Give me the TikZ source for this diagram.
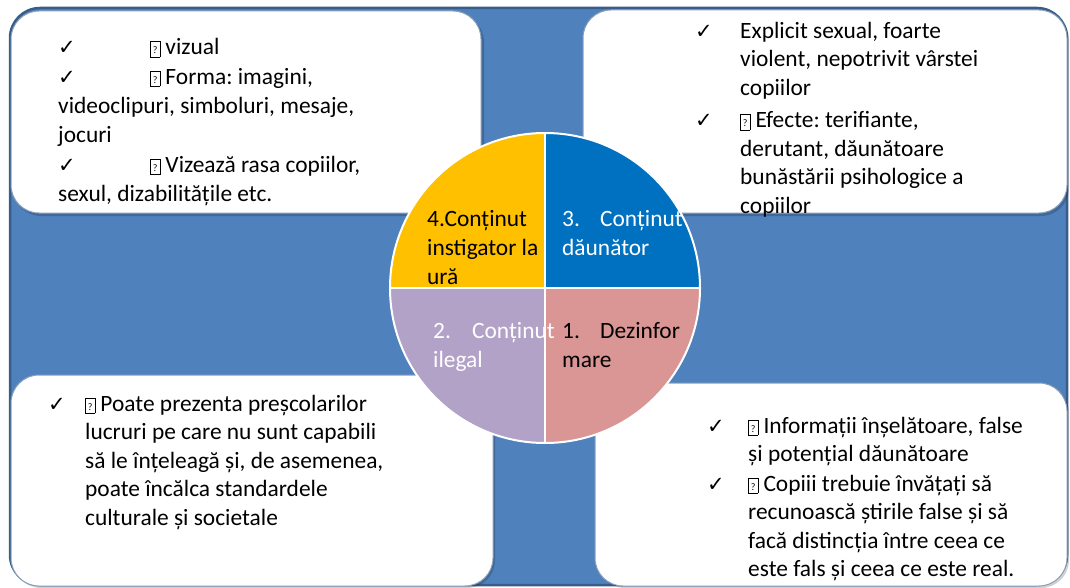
\documentclass[tikz,border=0pt]{standalone}
\usepackage{fontspec}
\setmainfont{Carlito}
\newfontfamily\symfont{DejaVu Sans}
\usetikzlibrary{positioning}
\frenchspacing
\definecolor{BackBlue}{RGB}{79,129,189}
\definecolor{EdgeBlue}{RGB}{56,93,138}
\definecolor{QYellow}{RGB}{255,192,0}
\definecolor{QBlue}{RGB}{0,112,192}
\definecolor{QPink}{RGB}{217,150,148}
\definecolor{QPurple}{RGB}{179,162,199}
\newcommand{\chk}{{\symfont\fontsize{21}{21}\selectfont ✓}}
\newcommand{\qmark}{\raisebox{-1pt}{\setlength{\fboxsep}{0pt}\setlength{\fboxrule}{0.6pt}\framebox[10pt]{\rule[-1pt]{0pt}{15pt}\raisebox{2pt}{\fontsize{10}{10}\selectfont ?}}}}

\begin{document}
\begin{tikzpicture}[x=1pt, y=-1pt,
		whitebox/.style={fill=white, draw=EdgeBlue!60, line width=1pt, rounded corners=28pt},
		boxshadow/.style={fill=black, opacity=0.18, rounded corners=28pt},
		boxtext/.style={anchor=north west, inner sep=0pt, align=left, font=\fontsize{23.4}{28.5}\selectfont},
		pietext/.style={anchor=north west, inner sep=0pt, align=left, font=\fontsize{23.4}{29}\selectfont}]
			\useasboundingbox (0,0) rectangle (1070,588);
			\draw[fill=BackBlue, draw=EdgeBlue, line width=2.5pt, rounded corners=30pt] (10,8) rectangle (1067,585);
			\fill[boxshadow] (13,14) rectangle (484,216);
			\fill[boxshadow] (585,12) rectangle (1069,216);
			\fill[boxshadow] (13,377) rectangle (495,588);
			\fill[boxshadow] (597,385) rectangle (1069,588);
			\draw[whitebox] (11,11) rectangle (481,213);
			\draw[whitebox] (583,10) rectangle (1067,213);
			\draw[whitebox] (11,375) rectangle (493,586);
			\draw[whitebox] (595,383) rectangle (1067,586);
			\coordinate (c) at (545,288);
			\fill[QPink] (c) -- ++(155,0) arc[start angle=0, end angle=90, radius=155] -- cycle;
			\fill[QPurple] (c) -- ++(0,155) arc[start angle=90, end angle=180, radius=155] -- cycle;
			\fill[QYellow] (c) -- ++(-155,0) arc[start angle=180, end angle=270, radius=155] -- cycle;
			\fill[QBlue] (c) -- ++(0,-155) arc[start angle=270, end angle=360, radius=155] -- cycle;
			\draw[white, line width=2pt] (c) circle[radius=155];
			\draw[white, line width=2.5pt] (390,288) -- (700,288);
			\draw[white, line width=2.5pt] (545,133) -- (545,443);
			\node[pietext] (hatelbl) at (427,206) {\strut 4.Conținut\\instigator la\\ură};
			\node[pietext, white] (harmlbl) at (562,206) {\strut\makebox[38pt][l]{3.}Conținut\\dăunător};
			\node[pietext, white] (illlbl) at (433,318) {\strut\makebox[39pt][l]{2.}Conținut\\ilegal};
			\node[pietext] (dislbl) at (562,318) {\strut\makebox[38pt][l]{1.}Dezinfor\\mare};
			\node[boxtext, font=\fontsize{23.4}{29.4}\selectfont] (hatenote) at (58,34) {\strut\makebox[92pt][l]{\chk}\qmark{} vizual\\
				\makebox[92pt][l]{\chk}\qmark{} Forma: imagini,\\
				videoclipuri, simboluri, mesaje,\\
				jocuri\\
				\makebox[92pt][l]{\chk}\qmark{} Vizează rasa copiilor,\\
				sexul, dizabilitățile etc.};
			\node[boxtext] (harmnote) at (695,18) {\strut\makebox[45pt][l]{\chk}Explicit sexual, foarte\\
				\hspace*{45pt}violent, nepotrivit vârstei\\
				\hspace*{45pt}copiilor\\[4pt]
				\makebox[45pt][l]{\chk}\qmark{} Efecte: terifiante,\\
				\hspace*{45pt}derutant, dăunătoare\\
				\hspace*{45pt}bunăstării psihologice a\\
				\hspace*{45pt}copiilor};
			\node[boxtext] (illnote) at (48,391) {\strut\makebox[37pt][l]{\chk}\qmark{} Poate prezenta preșcolarilor\\
				\hspace*{37pt}lucruri pe care nu sunt capabili\\
				\hspace*{37pt}să le înțeleagă și, de asemenea,\\
				\hspace*{37pt}poate încălca standardele\\
				\hspace*{37pt}culturale și societale};
			\node[boxtext] (disnote) at (707,413) {\strut\makebox[41pt][l]{\chk}\qmark{} Informații înșelătoare, false\\
				\hspace*{41pt}și potențial dăunătoare\\[1pt]
				\makebox[41pt][l]{\chk}\qmark{} Copiii trebuie învățați să\\
				\hspace*{41pt}recunoască știrile false și să\\
				\hspace*{41pt}facă distincția între ceea ce\\
				\hspace*{41pt}este fals și ceea ce este real.};
		\end{tikzpicture}
\end{document}
